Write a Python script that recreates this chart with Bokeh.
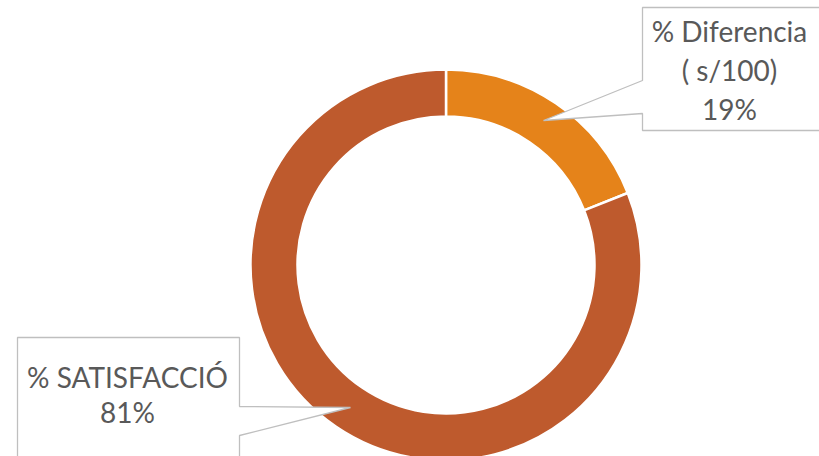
import math
from bokeh.plotting import figure
from bokeh.models import Range1d, ColumnDataSource
from bokeh.core.properties import value
from bokeh.embed import file_html
from bokeh.resources import INLINE

# ---- data ----
categories = ["% Diferencia\n( s/100)", "% SATISFACCIÓ"]
percent = [19, 81]
colors = ["#E5831A", "#BE5A2D"]

# ---- layout (reference pixel coords, y measured downward) ----
W, H = 819, 456

def fy(y):  # reference y (down) -> data y (up)
    return H - y

p = figure(width=W, height=H, output_backend="svg", toolbar_location=None,
           x_range=Range1d(0, W), y_range=Range1d(0, H),
           min_border=0, outline_line_color=None)
p.axis.visible = False
p.grid.visible = False
p.background_fill_color = "white"
p.border_fill_color = "white"

cx, cy = 445.5, fy(264.5)
r_out, r_in = 195.5, 148.5

total = sum(percent)
starts, ends = [], []
cum = 0.0
for v in percent:
    a_end = math.pi / 2 - cum / total * 2 * math.pi
    cum += v
    a_start = math.pi / 2 - cum / total * 2 * math.pi
    starts.append(a_start)
    ends.append(a_end)

src = ColumnDataSource(dict(start=starts, end=ends, color=colors))
p.annular_wedge(x=cx, y=cy, inner_radius=r_in, outer_radius=r_out,
                start_angle="start", end_angle="end", direction="anticlock",
                fill_color="color", line_color="white", line_width=2.5, source=src)

# ---- callouts ----
box_color = "#BFBFBF"
b1x = [642, 830, 830, 642, 642, 543, 642]
b1y = [fy(y) for y in [7, 7, 130, 130, 113, 120, 80]]
p.patch(b1x, b1y, fill_color="white", line_color=box_color, line_width=1.3)
b2x = [17, 239, 239, 350, 239, 239, 17]
b2y = [fy(y) for y in [337, 337, 406, 407, 435, 470, 470]]
p.patch(b2x, b2y, fill_color="white", line_color=box_color, line_width=1.3)

font = value("Lato")
txt_color = "#595959"
fs = "28px"
shift = 12

lines1 = categories[0].split("\n") + [f"{percent[0]}%"]
base1 = [42, 81, 120]
p.text(x=[729] * len(lines1), y=[fy(b - shift) for b in base1], text=lines1,
       text_font=font, text_font_size=fs, text_color=txt_color,
       text_align="center", text_baseline="alphabetic")

lines2 = categories[1].split("\n") + [f"{percent[1]}%"]
base2 = [388, 423]
p.text(x=[127] * len(lines2), y=[fy(b - shift) for b in base2], text=lines2,
       text_font=font, text_font_size=fs, text_color=txt_color,
       text_align="center", text_baseline="alphabetic")

open("out.html", "w").write(file_html(p, INLINE))
